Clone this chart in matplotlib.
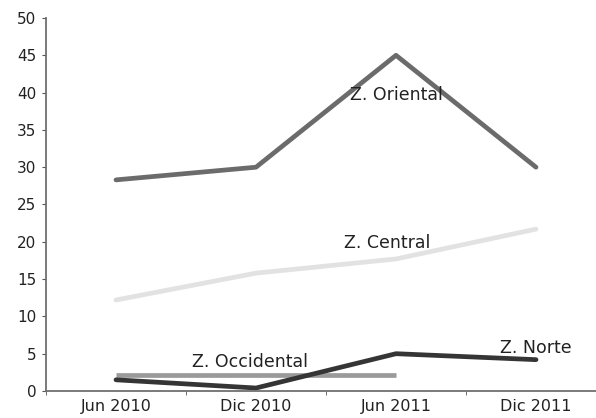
import numpy as np
import matplotlib
matplotlib.use('Agg')
import matplotlib.pyplot as plt

# data
periods = ['Jun 2010', 'Dic 2010', 'Jun 2011', 'Dic 2011']
oriental = [28.3, 30.0, 45.0, 30.0]
central = [12.2, 15.8, 17.7, 21.7]
norte = [1.5, 0.4, 5.0, 4.2]
occidental = [2.1, 2.1, 2.1, np.nan]

x = np.arange(len(periods))

fig = plt.figure(figsize=(5.96, 4.18), dpi=100)
# the x axis runs past the right edge of the picture in the reference
ax = fig.add_axes([46 / 596, 27 / 418, 560 / 596, 373 / 418])

ax.plot(x, oriental, color='#6b6b6b', lw=3.4, solid_capstyle='round')
ax.plot(x, central, color='#e2e2e2', lw=3.4, solid_capstyle='round')
ax.plot(x, occidental, color='#9a9a9a', lw=3.4, solid_capstyle='butt')
ax.plot(x, norte, color='#353535', lw=3.4, solid_capstyle='round')

txt = dict(fontsize=12.5, color='#222222', ha='center', va='center')
ax.text(2.0, 39.7, 'Z. Oriental', **txt)
ax.text(1.94, 19.8, 'Z. Central', **txt)
ax.text(3.0, 5.8, 'Z. Norte', **txt)
ax.text(0.96, 3.9, 'Z. Occidental', **txt)

ax.set_xlim(-0.5, 3.5)
ax.set_ylim(0, 50)
ax.set_yticks(np.arange(0, 51, 5))
ax.set_xticks(x)
ax.set_xticklabels(periods)
ax.set_xticks(np.arange(-0.5, 3.6, 1), minor=True)
ax.tick_params(axis='x', which='major', length=0, labelsize=11.5,
               labelcolor='#222222', pad=6)
ax.tick_params(axis='x', which='minor', length=3, color='#555555')
ax.tick_params(axis='y', length=3, color='#555555', labelsize=11,
               labelcolor='#222222', pad=4)

for s in ['top', 'right']:
    ax.spines[s].set_visible(False)
for s in ['left', 'bottom']:
    ax.spines[s].set_color('#6f6f6f')
    ax.spines[s].set_linewidth(1.3)

fig.savefig('out.png', dpi=100)
